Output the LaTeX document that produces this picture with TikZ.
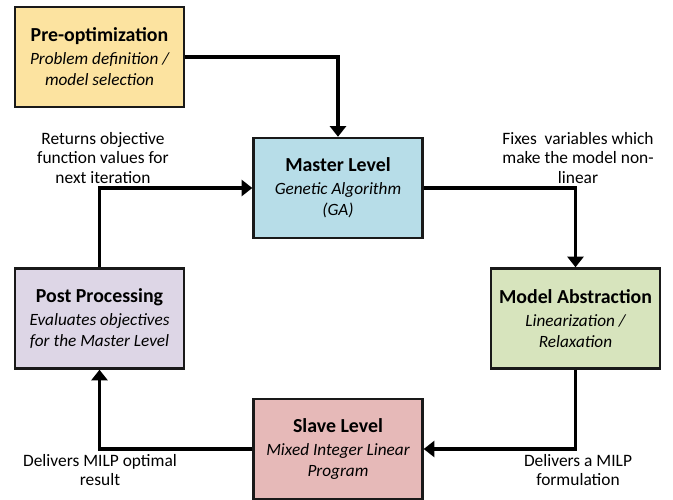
\documentclass[tikz,border=0pt]{standalone}
\usepackage{fontspec}
\setmainfont{Carlito}
\usepackage{xcolor}
\usetikzlibrary{arrows.meta, positioning}

\definecolor{preyellow}{HTML}{FCE3A0}
\definecolor{masterblue}{HTML}{B7DDE8}
\definecolor{modelgreen}{HTML}{D7E4BD}
\definecolor{postlilac}{HTML}{DDD6E6}
\definecolor{slavered}{HTML}{E6B9B8}

\newcommand{\boxtitle}[1]{{\fontsize{11.3}{13.5}\selectfont\bfseries #1}}
\newcommand{\boxsub}[1]{{\fontsize{9.8}{12.5}\selectfont\itshape #1}}

\begin{document}
\begin{tikzpicture}[
  x=0.02cm, y=-0.02cm,
  stage/.style = {rectangle, draw=black!90, line width=1.4pt,
                  minimum width=3.38cm, minimum height=2.0cm,
                  align=center, text centered, inner sep=2pt},
  note/.style  = {align=center, font=\fontsize{9.9}{11.3}\selectfont,
                  inner sep=0pt},
  arr/.style   = {-{Triangle[length=6pt,width=9pt]}, line width=2pt}
]
\useasboundingbox (0,0) rectangle (673,500);

% ===================== STAGES =====================
\node[stage, fill=preyellow] (pre) at (99.5,57)
  {\boxtitle{Pre-optimization}\\[1pt]\boxsub{Problem definition /}\\\boxsub{model selection}};
\node[stage, fill=masterblue] (master) at (338,188)
  {\boxtitle{Master Level}\\[1pt]\boxsub{Genetic Algorithm}\\\boxsub{(GA)}};
\node[stage, fill=modelgreen] (model) at (575.5,318.5)
  {\boxtitle{Model Abstraction}\\[1pt]\boxsub{Linearization /}\\\boxsub{Relaxation}};
\node[stage, fill=postlilac] (post) at (99.5,318.5)
  {\boxtitle{Post Processing}\\[1pt]\boxsub{Evaluates objectives}\\\boxsub{for the Master Level}};
\node[stage, fill=slavered] (slave) at (338,449)
  {\boxtitle{Slave Level}\\[1pt]\boxsub{Mixed Integer Linear}\\\boxsub{Program}};

% ===================== LABELS =====================
\node[note] (retlbl) at (103,158)
  {Returns objective\\function values for\\next iteration};
\node[note] (fixlbl) at (578,158)
  {Fixes~ variables which\\make the model non-\\linear};
\node[note] (optlbl) at (100,470)
  {Delivers MILP optimal\\result};
\node[note] (milplbl) at (578,470)
  {Delivers a MILP\\formulation};

% ===================== LOOP =====================
\draw[arr] (pre.east)    -| (master.north);
\draw[arr] (master.east) -| (model.north);
\draw[arr] (model.south) |- (slave.east);
\draw[arr] (slave.west)  -| (post.south);
\draw[arr] (post.north)  |- (master.west);

\end{tikzpicture}
\end{document}
